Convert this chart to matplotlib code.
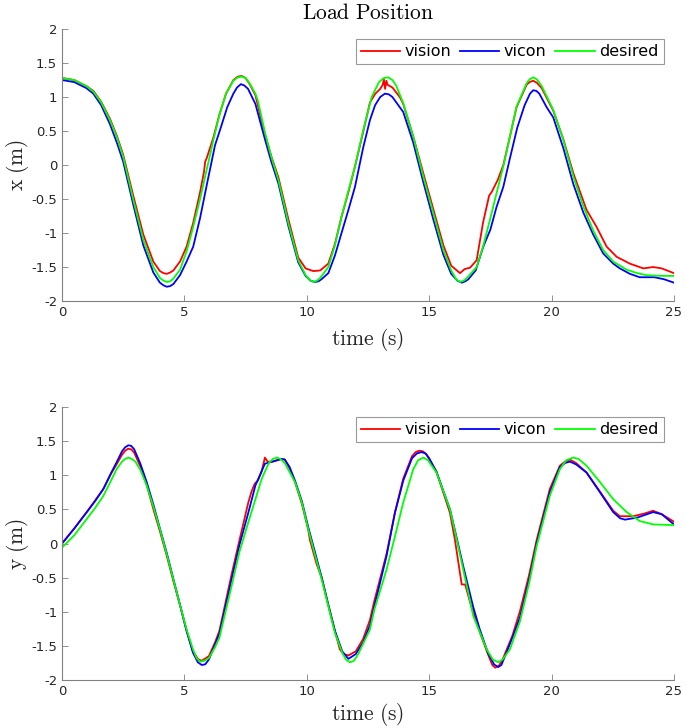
import numpy as np
import matplotlib.pyplot as plt

plt.rcParams['mathtext.fontset'] = 'cm'

# ---- load x position ----
t_des_x = [0, 0.5, 1.0, 1.28, 1.6, 1.96, 2.25, 2.5, 2.91, 3.32, 3.73, 4.0, 4.15, 4.28, 4.42,
           4.55, 4.82, 5.09, 5.36, 5.64, 5.91, 6.18, 6.43, 6.7, 7.0, 7.18, 7.34, 7.5, 7.65, 7.9,
           8.0, 8.29, 8.55, 8.84, 9.25, 9.65, 9.95, 10.12, 10.27, 10.42, 10.55, 10.88, 11.15,
           11.42, 11.7, 11.97, 12.3, 12.65, 12.95, 13.15, 13.33, 13.5, 13.65, 13.94, 14.35, 14.76,
           15.17, 15.58, 15.9, 16.1, 16.26, 16.42, 16.6, 16.94, 17.2, 17.48, 17.75, 18.03, 18.3,
           18.57, 18.98, 19.1, 19.25, 19.4, 19.6, 20.07, 20.48, 20.89, 21.3, 21.7, 22.11, 22.52,
           23.07, 23.5, 23.88, 24.5, 25]
x_des = [1.28, 1.25, 1.16, 1.08, 0.92, 0.66, 0.40, 0.12, -0.51, -1.10, -1.50, -1.66, -1.70,
         -1.72, -1.71, -1.67, -1.54, -1.27, -0.91, -0.50, -0.07, 0.36, 0.74, 1.05, 1.24, 1.29,
         1.30, 1.28, 1.21, 1.05, 0.95, 0.48, 0.12, -0.22, -0.86, -1.40, -1.62, -1.69, -1.72,
         -1.70, -1.66, -1.50, -1.18, -0.76, -0.38, -0.02, 0.50, 1.00, 1.22, 1.28, 1.29, 1.25,
         1.17, 0.91, 0.42, -0.17, -0.71, -1.25, -1.55, -1.68, -1.72, -1.70, -1.64, -1.50,
         -1.20, -0.81, -0.42, -0.02, 0.42, 0.86, 1.20, 1.26, 1.29, 1.26, 1.16, 0.81, 0.37,
         -0.17, -0.61, -0.96, -1.25, -1.42, -1.54, -1.59, -1.62, -1.63, -1.63]

t_vic_x = [0, 0.5, 1.0, 1.28, 1.6, 1.96, 2.25, 2.5, 2.91, 3.32, 3.73, 4.0, 4.15, 4.28, 4.42,
           4.55, 4.82, 5.09, 5.36, 5.64, 5.91, 6.25, 6.45, 6.75, 7.0, 7.15, 7.31, 7.45, 7.6, 7.9,
           8.29, 8.55, 8.84, 9.25, 9.65, 9.95, 10.15, 10.33, 10.48, 10.6, 10.88, 11.15, 11.42,
           11.7, 11.97, 12.3, 12.58, 12.79, 13.0, 13.19, 13.35, 13.5, 13.8, 13.94, 14.35, 14.76,
           15.17, 15.58, 15.9, 16.15, 16.33, 16.48, 16.6, 16.9, 17.21, 17.5, 17.75, 18.03, 18.3,
           18.6, 18.9, 19.12, 19.25, 19.38, 19.5, 19.8, 20.07, 20.48, 20.89, 21.3, 21.7, 22.11,
           22.52, 22.79, 23.2, 23.6, 24.2, 24.6, 25]
x_vic = [1.25, 1.22, 1.13, 1.05, 0.88, 0.60, 0.32, 0.05, -0.58, -1.18, -1.58, -1.73, -1.77,
         -1.79, -1.78, -1.75, -1.62, -1.42, -1.20, -0.78, -0.30, 0.29, 0.51, 0.85, 1.05, 1.14,
         1.19, 1.17, 1.12, 0.90, 0.38, 0.05, -0.27, -0.90, -1.43, -1.63, -1.70, -1.72, -1.71,
         -1.68, -1.59, -1.33, -1.00, -0.66, -0.32, 0.25, 0.66, 0.88, 1.00, 1.05, 1.04, 1.00,
         0.85, 0.78, 0.33, -0.25, -0.80, -1.32, -1.60, -1.70, -1.73, -1.71, -1.68, -1.55,
         -1.20, -0.95, -0.62, -0.32, 0.10, 0.55, 0.88, 1.05, 1.10, 1.09, 1.05, 0.85, 0.70,
         0.25, -0.28, -0.70, -1.02, -1.30, -1.45, -1.52, -1.60, -1.65, -1.65, -1.68, -1.73]

t_vis_x = [0, 0.5, 1.0, 1.28, 1.6, 1.96, 2.25, 2.5, 2.91, 3.32, 3.73, 4.0, 4.15, 4.28, 4.42,
           4.55, 4.82, 5.09, 5.36, 5.64, 5.8, 5.85, 5.91, 6.18, 6.43, 6.7, 7.0, 7.18, 7.34, 7.5,
           7.65, 7.9, 8.29, 8.55, 8.84, 9.25, 9.65, 9.95, 10.27, 10.55, 10.88, 11.15, 11.42,
           11.7, 11.97, 12.3, 12.58, 12.8, 13.0, 13.1, 13.15, 13.2, 13.25, 13.3, 13.5, 13.8,
           13.94, 14.35, 14.76, 15.17, 15.58, 15.9, 16.26, 16.45, 16.67, 16.94, 17.2, 17.45,
           17.55, 17.8, 18.03, 18.3, 18.57, 18.98, 19.1, 19.25, 19.4, 19.6, 20.07, 20.48, 20.89,
           21.43, 21.84, 22.25, 22.66, 23.2, 23.75, 24.15, 24.5, 25]
x_vis = [1.28, 1.25, 1.16, 1.09, 0.93, 0.68, 0.42, 0.15, -0.45, -1.02, -1.42, -1.56, -1.59,
         -1.60, -1.58, -1.55, -1.42, -1.20, -0.85, -0.40, -0.10, 0.05, 0.10, 0.40, 0.74, 1.05,
         1.25, 1.30, 1.31, 1.28, 1.20, 1.03, 0.45, 0.13, -0.18, -0.80, -1.36, -1.52, -1.56,
         -1.55, -1.45, -1.16, -0.76, -0.40, -0.02, 0.48, 0.92, 1.05, 1.12, 1.18, 1.26, 1.12,
         1.24, 1.18, 1.14, 1.00, 0.90, 0.42, -0.12, -0.65, -1.18, -1.48, -1.59, -1.53, -1.51,
         -1.40, -0.85, -0.45, -0.40, -0.22, 0.00, 0.42, 0.85, 1.18, 1.22, 1.24, 1.21, 1.13,
         0.80, 0.38, -0.12, -0.66, -0.91, -1.20, -1.35, -1.45, -1.52, -1.50, -1.52, -1.59]

# ---- load y position ----
t_des_y = [0, 0.5, 1.01, 1.35, 1.69, 2.0, 2.23, 2.45, 2.58, 2.71, 2.85, 3.0, 3.2, 3.46, 3.75,
           4.0, 4.28, 4.55, 4.82, 5.09, 5.35, 5.5, 5.64, 5.8, 6.0, 6.25, 6.43, 6.93, 7.25, 7.61,
           8.16, 8.45, 8.62, 8.77, 8.92, 9.1, 9.52, 9.8, 10.06, 10.33, 10.61, 10.88, 11.15, 11.45,
           11.6, 11.76, 11.92, 12.1, 12.58, 12.76, 13.26, 13.6, 13.94, 14.35, 14.55, 14.76, 14.95,
           15.3, 15.85, 16.1, 16.39, 16.8, 17.35, 17.6, 17.82, 18.0, 18.3, 18.71, 19.09, 19.39,
           19.93, 20.34, 20.6, 20.88, 21.1, 21.43, 21.98, 22.52, 23.07, 23.6, 24.15, 25]
y_des = [-0.06, 0.12, 0.36, 0.52, 0.70, 0.92, 1.09, 1.20, 1.24, 1.26, 1.24, 1.20, 1.08, 0.85,
         0.52, 0.21, -0.16, -0.53, -0.90, -1.26, -1.55, -1.68, -1.73, -1.72, -1.68, -1.52,
         -1.38, -0.62, -0.12, 0.31, 0.95, 1.18, 1.24, 1.26, 1.24, 1.18, 0.90, 0.60, 0.21,
         -0.16, -0.53, -0.92, -1.31, -1.60, -1.70, -1.74, -1.72, -1.62, -1.26, -0.97, -0.38,
         0.10, 0.60, 1.09, 1.22, 1.26, 1.22, 1.04, 0.50, 0.10, -0.38, -1.06, -1.55, -1.70,
         -1.74, -1.70, -1.55, -1.14, -0.57, -0.04, 0.70, 1.09, 1.22, 1.26, 1.24, 1.14, 0.90,
         0.65, 0.46, 0.33, 0.28, 0.27]

t_vic_y = [0, 0.5, 1.01, 1.35, 1.69, 2.0, 2.23, 2.45, 2.58, 2.71, 2.83, 2.95, 3.2, 3.46, 3.75,
           4.0, 4.28, 4.55, 4.82, 5.09, 5.35, 5.55, 5.71, 5.85, 6.0, 6.25, 6.43, 6.93, 7.25, 7.61,
           7.9, 8.29, 8.6, 8.97, 9.1, 9.3, 9.52, 9.8, 10.06, 10.33, 10.61, 10.88, 11.15, 11.45,
           11.7, 12.0, 12.3, 12.58, 12.76, 13.26, 13.6, 13.94, 14.3, 14.5, 14.69, 14.85, 15.0,
           15.3, 15.85, 16.1, 16.39, 16.8, 17.07, 17.4, 17.65, 17.82, 17.95, 18.1, 18.4, 18.71,
           19.09, 19.39, 19.93, 20.34, 20.55, 20.75, 21.0, 21.43, 21.98, 22.52, 22.8, 23.0, 23.5,
           24.15, 24.5, 25]
y_vic = [0.00, 0.22, 0.46, 0.62, 0.80, 1.03, 1.19, 1.35, 1.41, 1.44, 1.43, 1.38, 1.17, 0.90,
         0.55, 0.22, -0.14, -0.52, -0.90, -1.28, -1.60, -1.74, -1.78, -1.77, -1.70, -1.48,
         -1.32, -0.52, -0.02, 0.45, 0.85, 1.17, 1.20, 1.24, 1.23, 1.12, 0.92, 0.62, 0.24,
         -0.12, -0.50, -0.90, -1.28, -1.58, -1.69, -1.62, -1.45, -1.20, -0.92, -0.18, 0.45,
         0.92, 1.25, 1.32, 1.34, 1.32, 1.25, 1.05, 0.50, 0.12, -0.33, -0.93, -1.26, -1.60,
         -1.77, -1.81, -1.78, -1.65, -1.38, -1.08, -0.52, 0.00, 0.75, 1.12, 1.18, 1.20, 1.16,
         1.04, 0.75, 0.46, 0.37, 0.35, 0.38, 0.46, 0.43, 0.28]

t_vis_y = [0, 0.5, 1.01, 1.35, 1.69, 2.0, 2.23, 2.45, 2.58, 2.71, 2.83, 2.95, 3.2, 3.46, 3.75,
           4.0, 4.28, 4.55, 4.82, 5.09, 5.35, 5.55, 5.7, 6.0, 6.25, 6.43, 6.93, 7.25, 7.61, 7.75,
           7.88, 8.0, 8.15, 8.29, 8.4, 8.6, 8.97, 9.1, 9.3, 9.52, 9.8, 10.06, 10.13, 10.4, 10.61,
           10.88, 11.15, 11.35, 11.5, 11.7, 12.0, 12.3, 12.58, 12.76, 13.26, 13.6, 13.94, 14.3,
           14.45, 14.6, 14.75, 14.9, 15.3, 15.85, 16.05, 16.33, 16.47, 16.68, 17.07, 17.4, 17.58,
           17.7, 17.85, 18.0, 18.4, 18.71, 19.09, 19.39, 19.93, 20.34, 20.55, 20.75, 21.0, 21.43,
           21.98, 22.52, 22.79, 23.33, 23.8, 24.15, 24.5, 25]
y_vis = [0.00, 0.22, 0.46, 0.63, 0.80, 1.02, 1.16, 1.30, 1.36, 1.39, 1.38, 1.33, 1.13, 0.86,
         0.48, 0.18, -0.18, -0.55, -0.90, -1.28, -1.58, -1.69, -1.72, -1.65, -1.45, -1.28,
         -0.45, 0.05, 0.60, 0.77, 0.88, 0.92, 1.05, 1.26, 1.20, 1.20, 1.24, 1.23, 1.10, 0.90,
         0.58, 0.20, 0.05, -0.30, -0.50, -0.90, -1.28, -1.55, -1.62, -1.64, -1.58, -1.40,
         -1.12, -0.84, -0.15, 0.45, 0.95, 1.28, 1.34, 1.36, 1.35, 1.30, 1.05, 0.45, 0.06,
         -0.60, -0.60, -0.87, -1.30, -1.62, -1.78, -1.82, -1.79, -1.70, -1.35, -0.99, -0.45,
         0.05, 0.80, 1.14, 1.20, 1.23, 1.18, 1.04, 0.76, 0.48, 0.40, 0.40, 0.44, 0.48, 0.43,
         0.32]

x_ticks = [0, 5, 10, 15, 20, 25]
y_ticks = [-2, -1.5, -1, -0.5, 0, 0.5, 1, 1.5, 2]
y_ticklabels = ['-2', '-1.5', '-1', '-0.5', '0', '0.5', '1', '1.5', '2']

fig = plt.figure(figsize=(6.86, 7.28), dpi=100)
ax1 = fig.add_axes([0.0904, 0.5865, 0.892, 0.3736])
ax2 = fig.add_axes([0.0904, 0.0659, 0.892, 0.375])


def style(ax, ylab, xpad):
    ax.set_xlim(0, 25)
    ax.set_ylim(-2, 2)
    ax.set_xticks(x_ticks)
    ax.set_xticklabels([str(v) for v in x_ticks])
    ax.set_yticks(y_ticks)
    ax.set_yticklabels(y_ticklabels)
    for s in ['top', 'right']:
        ax.spines[s].set_visible(False)
    for s in ['left', 'bottom']:
        ax.spines[s].set_color('#808080')
        ax.spines[s].set_linewidth(0.8)
    ax.tick_params(direction='in', length=4, width=0.6, colors='#808080',
                   labelcolor='#262626', labelsize=9.5)
    ax.set_xlabel(r'$\mathrm{time\ (s)}$', fontsize=15.5, color='#262626', labelpad=xpad)
    ax.set_ylabel(ylab, fontsize=15.5, color='#262626', labelpad=0)
    leg = ax.legend(loc='upper right', ncol=3, fontsize=11.5, frameon=True, fancybox=False,
                    handlelength=2.45, handletextpad=0.3, columnspacing=0.55,
                    borderpad=0.3, borderaxespad=0.65)
    leg.get_frame().set_edgecolor('#808080')
    leg.get_frame().set_linewidth(0.8)


lw = 1.3
ax1.plot(t_vis_x, x_vis, color='#ff0000', lw=lw, label='vision')
ax1.plot(t_vic_x, x_vic, color='#0000ff', lw=lw, label='vicon')
ax1.plot(t_des_x, x_des, color='#00ff00', lw=lw, label='desired')
style(ax1, r'$\mathrm{x\ (m)}$', 5)
ax1.set_title(r'$\mathrm{Load\ Position}$', fontsize=15.5, color='#000000', pad=7)

ax2.plot(t_vis_y, y_vis, color='#ff0000', lw=lw, label='vision')
ax2.plot(t_vic_y, y_vic, color='#0000ff', lw=lw, label='vicon')
ax2.plot(t_des_y, y_des, color='#00ff00', lw=lw, label='desired')
style(ax2, r'$\mathrm{y\ (m)}$', 2)

fig.savefig('out.png', dpi=100)
